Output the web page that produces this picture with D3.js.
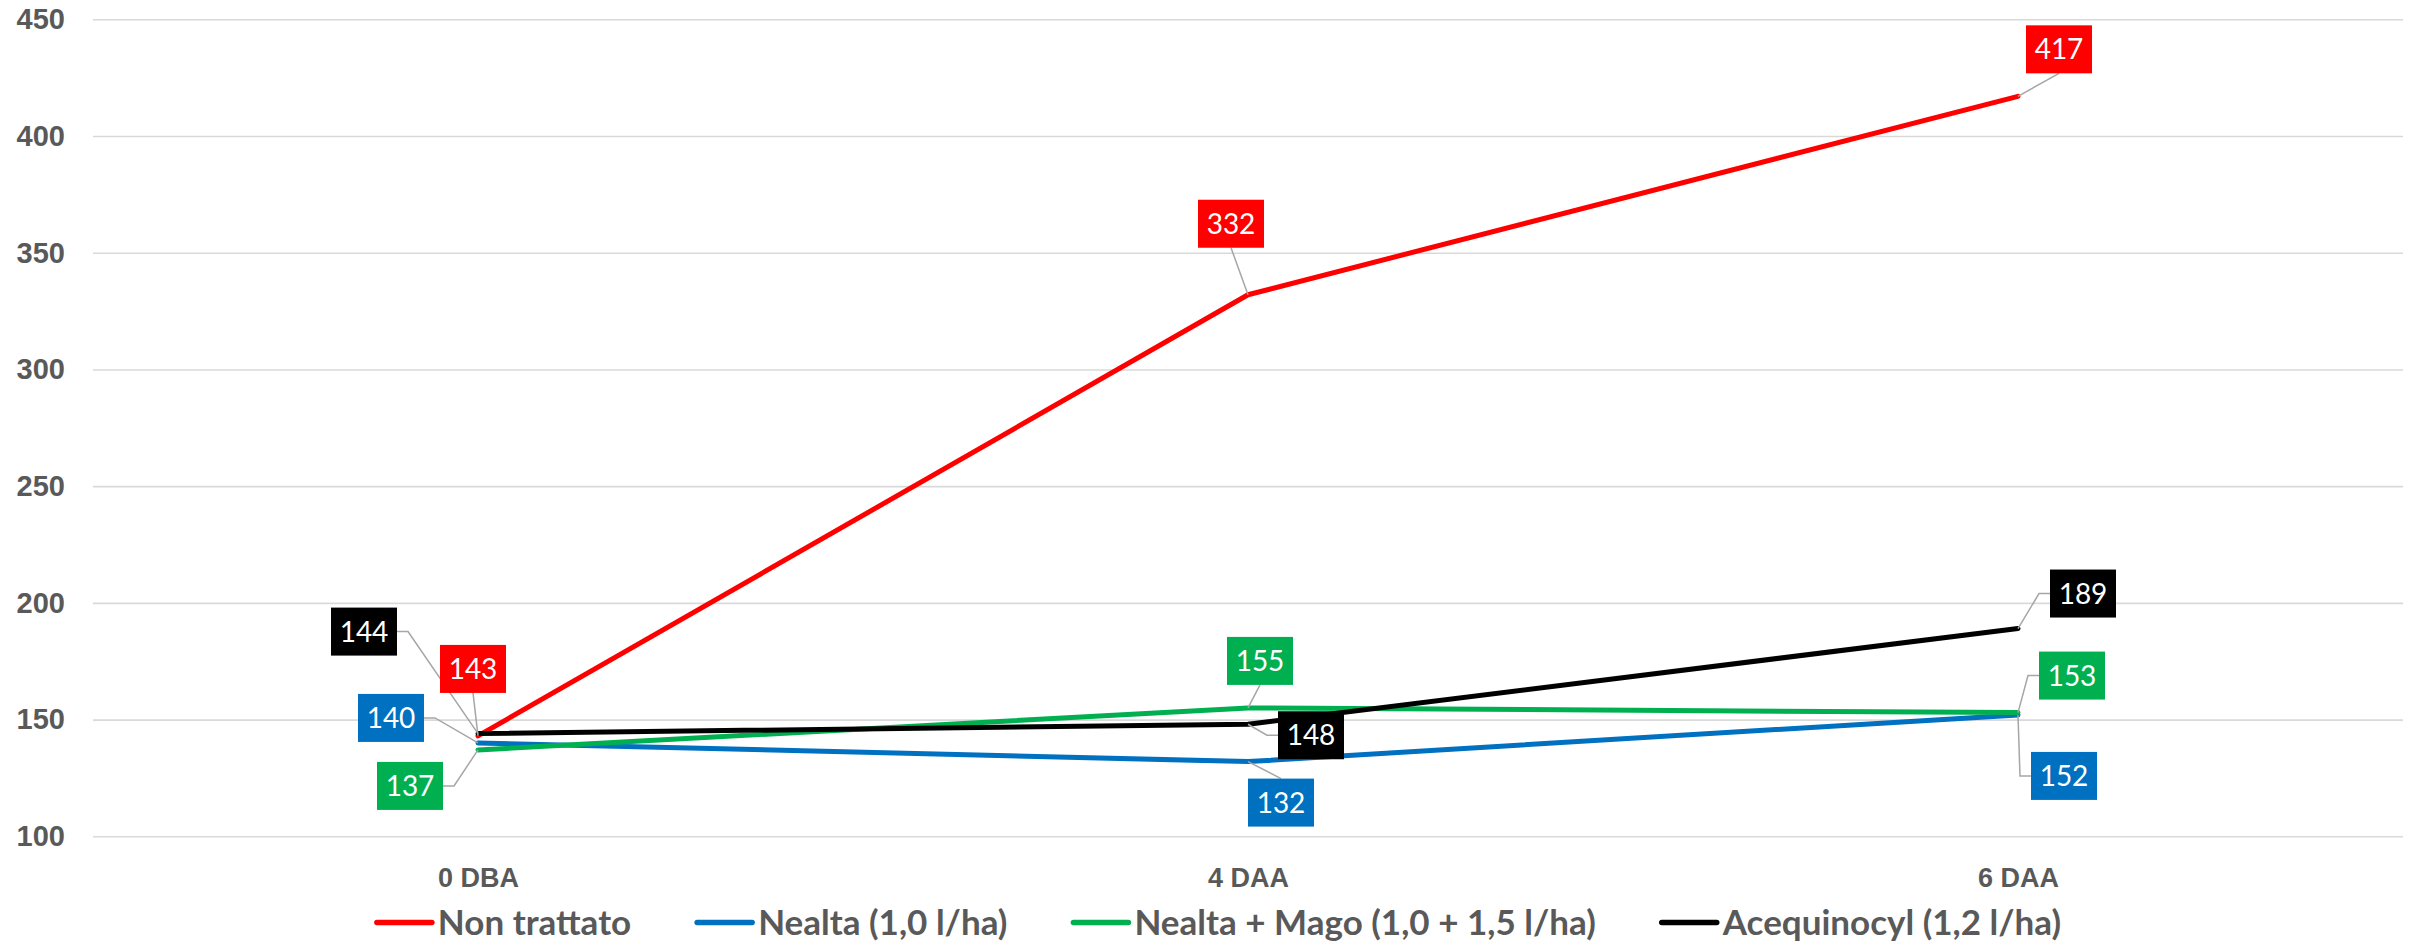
<!DOCTYPE html>
<html>
<head>
<meta charset="utf-8">
<script src="https://cdn.jsdelivr.net/npm/d3@7"></script>
<style>
  html, body { margin: 0; padding: 0; background: #fff; }
  svg { display: block; font-family: Lato, "Open Sans", "DejaVu Sans", sans-serif; }
</style>
</head>
<body>
<svg id="chart" width="2418" height="943"></svg>
<script>
// ---- data ----
const categories = ["0 DBA", "4 DAA", "6 DAA"];
const seriesNames = ["Non trattato", "Nealta (1,0 l/ha)", "Nealta + Mago (1,0 + 1,5 l/ha)", "Acequinocyl (1,2 l/ha)"];
const nonTrattato = [143, 332, 417];
const nealta = [140, 132, 152];
const nealtaMago = [137, 155, 153];
const acequinocyl = [144, 148, 189];
const yTicks = [100, 150, 200, 250, 300, 350, 400, 450];

// ---- styles / layout ----
const colors = ["#FF0000", "#0070C0", "#00B050", "#000000"];
// label box centre offsets from the point, and side the leader line attaches to
const labelLayout = [
  [[-5, -67, "b"], [-17, -71, "b"], [41, -47, "b"]],
  [[-87, -25, "r"], [33, 41, "t"], [46, 61, "l"]],
  [[-68, 36, "r"], [12, -47, "b"], [54, -37, "l"]],
  [[-114, -102, "r"], [63, 11, "l"], [65, -35, "l"]]
];

const seriesValues = [nonTrattato, nealta, nealtaMago, acequinocyl];
const series = seriesNames.map((name, i) => ({ name, color: colors[i], values: seriesValues[i], layout: labelLayout[i] }));

const svg = d3.select("#chart");
const plotLeft = 93, plotRight = 2403, plotTop = 19.3, plotBottom = 836.3;

const x = d3.scalePoint().domain(categories).range([plotLeft, plotRight]).padding(0.5);
const y = d3.scaleLinear().domain([100, 450]).range([plotBottom, plotTop]);

// gridlines + y labels
const yAxis = svg.append("g").attr("transform", `translate(${plotLeft},0)`)
  .call(d3.axisLeft(y).tickValues(yTicks).tickSize(-(plotRight - plotLeft)).tickPadding(28).tickFormat(d3.format("d")));
yAxis.select(".domain").remove();
yAxis.selectAll(".tick line").attr("stroke", "#d9d9d9").attr("stroke-width", 1.6);
yAxis.selectAll(".tick text").attr("fill", "#595959").style("font-size", "29px").style("font-weight", "700");

// x labels
const xAxis = svg.append("g").attr("transform", `translate(0,${plotBottom})`)
  .call(d3.axisBottom(x).tickSize(0));
xAxis.select(".domain").remove();
xAxis.selectAll(".tick text").attr("y", 50.5).attr("dy", 0)
  .attr("fill", "#595959").style("font-size", "27px").style("font-weight", "700");

// lines
const line = d3.line().x((d, i) => x(categories[i])).y(d => y(d));
svg.append("g").selectAll("path").data(series).join("path")
  .attr("d", d => line(d.values))
  .attr("fill", "none")
  .attr("stroke", d => d.color)
  .attr("stroke-width", 5)
  .attr("stroke-linecap", "round")
  .attr("stroke-linejoin", "round");

// data labels
const boxW = 66, boxH = 48;
const labels = [];
series.forEach(s => s.values.forEach((v, i) => {
  const px = x(categories[i]), py = y(v);
  const [dx, dy, side] = s.layout[i];
  labels.push({ v, color: s.color, px, py, cx: px + dx, cy: py + dy, side });
}));

const leaders = svg.append("g");
labels.forEach(l => {
  let pts;
  if (l.side === "b") pts = [[l.cx, l.cy + boxH / 2], [l.px, l.py]];
  else if (l.side === "t") pts = [[l.cx, l.cy - boxH / 2], [l.px, l.py]];
  else if (l.side === "r") pts = [[l.cx + boxW / 2, l.cy], [l.cx + boxW / 2 + 11, l.cy], [l.px, l.py]];
  else pts = [[l.cx - boxW / 2, l.cy], [l.cx - boxW / 2 - 11, l.cy], [l.px, l.py]];
  leaders.append("path").attr("d", d3.line()(pts))
    .attr("fill", "none").attr("stroke", "#a6a6a6").attr("stroke-width", 1.5);
});

const lg = svg.append("g").selectAll("g").data(labels).join("g")
  .attr("transform", d => `translate(${d.cx},${d.cy})`);
lg.append("rect").attr("x", -boxW / 2).attr("y", -boxH / 2).attr("width", boxW).attr("height", boxH)
  .attr("fill", d => d.color);
lg.append("text").attr("text-anchor", "middle").attr("dy", "0.36em")
  .attr("fill", "#fff").style("font-size", "28px").text(d => d.v);

// legend
const legend = svg.append("g");
const items = legend.selectAll("g").data(series).join("g");
items.append("line").attr("x1", 0).attr("x2", 55).attr("y1", 0).attr("y2", 0)
  .attr("stroke", d => d.color).attr("stroke-width", 5.5).attr("stroke-linecap", "round");
items.append("text").attr("x", 61).attr("y", 12.5)
  .attr("fill", "#595959").style("font-size", "35px").style("font-weight", "700").text(d => d.name);
const widths = [];
items.each(function () { widths.push(61 + this.querySelector("text").getComputedTextLength()); });
const gap = 66;
const total = d3.sum(widths) + gap * (widths.length - 1);
let cur = 1219 - total / 2;
items.attr("transform", (d, i) => {
  const t = `translate(${cur},922.5)`;
  cur += widths[i] + gap;
  return t;
});
</script>
</body>
</html>
